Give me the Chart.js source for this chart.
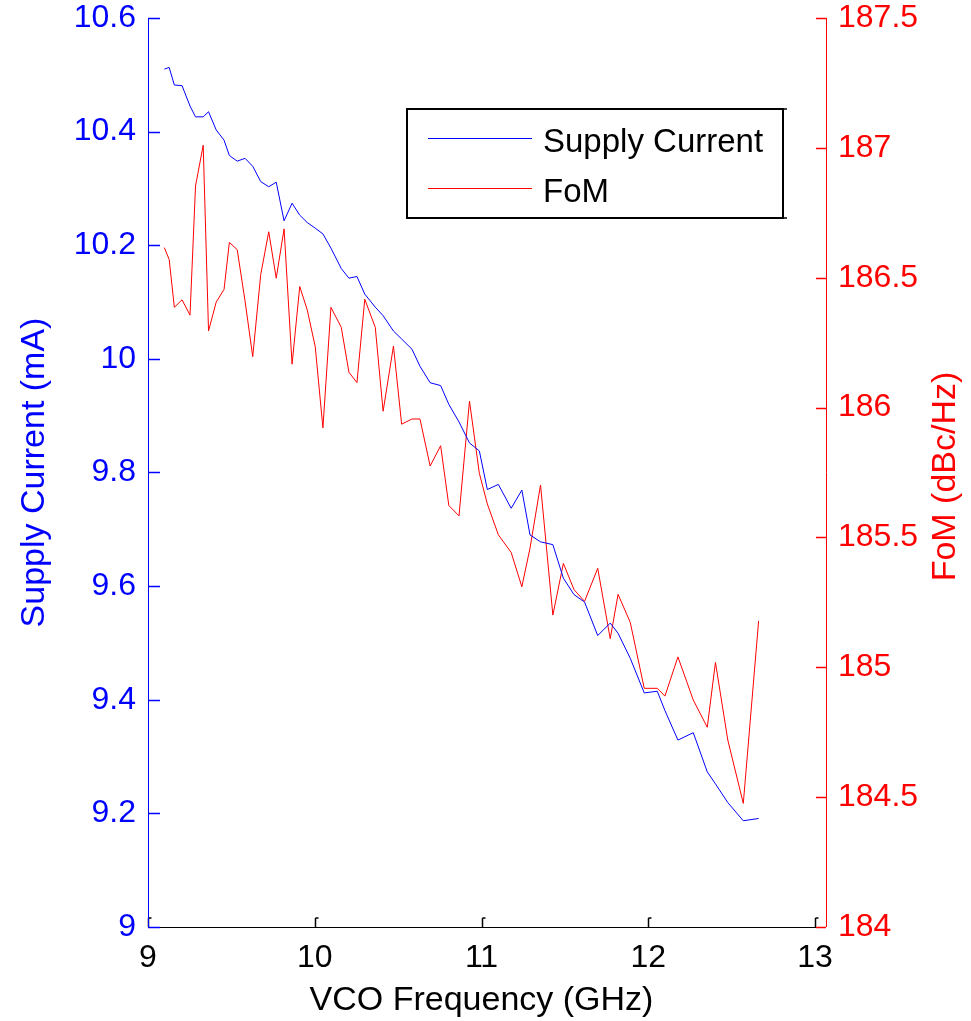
<!DOCTYPE html>
<html>
<head>
<meta charset="utf-8">
<title>VCO Supply Current and FoM</title>
<script src="https://cdn.jsdelivr.net/npm/chart.js@4.4.1/dist/chart.umd.min.js"></script>
<style>
  html, body { margin: 0; padding: 0; background: #fff; }
  #wrap { width: 971px; height: 1021px; }
</style>
</head>
<body>
<div id="wrap"><canvas id="vcoChart" width="971" height="1021"></canvas></div>
<script>
// measured sweep: VCO frequency (GHz), supply current (mA), FoM (dBc/Hz)
const freqGHz = [
  9.098, 9.127, 9.158, 9.204, 9.252, 9.285, 9.331, 9.363, 9.409, 9.456,
  9.488, 9.535, 9.582, 9.628, 9.676, 9.724, 9.769, 9.816, 9.864, 9.910,
  9.955, 10.003, 10.049, 10.097, 10.159, 10.205, 10.253, 10.300, 10.363, 10.410,
  10.472, 10.521, 10.583, 10.631, 10.692, 10.755, 10.804, 10.865, 10.928, 10.987,
  11.035, 11.101, 11.178, 11.242, 11.291, 11.354, 11.428, 11.491, 11.555, 11.618,
  11.697, 11.772, 11.819, 11.892, 11.976, 12.054, 12.100, 12.178, 12.270, 12.354,
  12.403, 12.477, 12.570, 12.662
];

const supplyCurrent = [
  10.510, 10.513, 10.482, 10.481, 10.445, 10.426, 10.426, 10.435, 10.403, 10.385,
  10.358, 10.348, 10.353, 10.339, 10.312, 10.303, 10.311, 10.243, 10.274, 10.253,
  10.240, 10.230, 10.220, 10.195, 10.159, 10.142, 10.145, 10.114, 10.091, 10.076,
  10.049, 10.035, 10.017, 9.987, 9.958, 9.953, 9.920, 9.889, 9.852, 9.838,
  9.770, 9.779, 9.737, 9.769, 9.690, 9.678, 9.673, 9.614, 9.585, 9.572,
  9.513, 9.535, 9.517, 9.473, 9.412, 9.415, 9.381, 9.329, 9.342, 9.273,
  9.252, 9.219, 9.187, 9.191
];

const fom = [
  186.616, 186.570, 186.386, 186.415, 186.356, 186.853, 187.010, 186.295, 186.406, 186.455,
  186.636, 186.608, 186.410, 186.196, 186.512, 186.677, 186.498, 186.688, 186.167, 186.466,
  186.376, 186.234, 185.922, 186.386, 186.309, 186.136, 186.096, 186.417, 186.309, 185.986,
  186.237, 185.936, 185.956, 185.956, 185.775, 185.853, 185.623, 185.583, 186.025, 185.747,
  185.629, 185.510, 185.442, 185.310, 185.459, 185.702, 185.201, 185.400, 185.299, 185.254,
  185.381, 185.110, 185.281, 185.173, 184.919, 184.919, 184.889, 185.040, 184.874, 184.769,
  185.019, 184.720, 184.476, 185.179
];

const seriesLabels = ["Supply Current", "FoM"];
const leftTitle = "Supply Current (mA)";
const rightTitle = "FoM (dBc/Hz)";
const bottomTitle = "VCO Frequency (GHz)";

const BLUE = "#0000ff";
const RED = "#ff0000";
const FONT = "'Liberation Sans', Arial, sans-serif";
const RIGHT_GAP = 11; // FoM axis sits a little right of the x range end

function toPoints(ys) {
  return freqGHz.map((f, i) => ({ x: f, y: ys[i] }));
}

function line(ctx, x1, y1, x2, y2) {
  ctx.beginPath();
  ctx.moveTo(x1, y1);
  ctx.lineTo(x2, y2);
  ctx.stroke();
}

// keep tick label overhang from shrinking the plot area
function fixWidth(w) {
  return s => { s.width = w; s.paddingTop = 0; s.paddingBottom = 0; };
}

// axis lines with inward ticks, the right title and the boxed legend
const framePlugin = {
  id: "frame",
  afterDraw(chart) {
    const { ctx, chartArea: a, scales } = chart;
    const rx = a.right + RIGHT_GAP;
    ctx.save();
    ctx.lineWidth = 1;

    // bottom axis
    ctx.strokeStyle = "#000";
    line(ctx, a.left, a.bottom + 0.5, rx, a.bottom + 0.5);
    ctx.lineWidth = 1.5;
    scales.x.ticks.forEach(t => {
      const px = Math.round(scales.x.getPixelForValue(t.value)) + 0.5;
      line(ctx, px, a.bottom, px, a.bottom - 9);
      line(ctx, px, a.bottom - 9, px + 3, a.bottom - 9);
    });

    // left axis
    ctx.lineWidth = 1;
    ctx.strokeStyle = BLUE;
    line(ctx, a.left + 0.5, a.top, a.left + 0.5, a.bottom);
    ctx.lineWidth = 1.5;
    scales.y.ticks.forEach(t => {
      const py = Math.round(scales.y.getPixelForValue(t.value)) + 0.5;
      line(ctx, a.left, py, a.left + 12, py);
    });

    // right axis
    ctx.lineWidth = 1;
    ctx.strokeStyle = RED;
    line(ctx, rx + 0.5, a.top, rx + 0.5, a.bottom);
    ctx.lineWidth = 1.5;
    scales.y1.ticks.forEach(t => {
      const py = Math.round(scales.y1.getPixelForValue(t.value)) + 0.5;
      line(ctx, rx, py, rx - 10, py);
    });

    // right axis title, reading bottom to top
    ctx.save();
    ctx.fillStyle = RED;
    ctx.font = "34px " + FONT;
    ctx.textAlign = "center";
    ctx.textBaseline = "middle";
    ctx.translate(946, (a.top + a.bottom) / 2 + 4);
    ctx.rotate(-Math.PI / 2);
    ctx.fillText(rightTitle, 0, 0);
    ctx.restore();

    // legend
    const box = { x: 407, y: 109, w: 376, h: 109 };
    ctx.lineWidth = 2;
    ctx.strokeStyle = "#000";
    ctx.strokeRect(box.x, box.y, box.w, box.h);
    ctx.lineWidth = 1.5;
    line(ctx, box.x + box.w, box.y, box.x + box.w + 4, box.y);
    line(ctx, box.x + box.w, box.y + box.h, box.x + box.w + 4, box.y + box.h);

    ctx.font = "33px " + FONT;
    ctx.textAlign = "left";
    ctx.textBaseline = "middle";
    ctx.fillStyle = "#000";
    chart.data.datasets.forEach((ds, i) => {
      const cy = box.y + 29 + i * 50;
      ctx.strokeStyle = ds.borderColor;
      ctx.lineWidth = 1;
      line(ctx, box.x + 21, cy + 0.5, box.x + 125, cy + 0.5);
      ctx.fillText(ds.label, box.x + 136, cy + 5);
    });

    ctx.restore();
  }
};

function renderVcoChart() {
  const ctx = document.getElementById("vcoChart");
  if (!ctx) return;

  new Chart(ctx, {
    type: "line",
    data: {
      datasets: [
        {
          label: seriesLabels[0],
          data: toPoints(supplyCurrent),
          yAxisID: "y",
          borderColor: BLUE,
          borderWidth: 1,
          pointRadius: 0,
          tension: 0,
          fill: false
        },
        {
          label: seriesLabels[1],
          data: toPoints(fom),
          yAxisID: "y1",
          borderColor: RED,
          borderWidth: 1,
          pointRadius: 0,
          tension: 0,
          fill: false
        }
      ]
    },
    options: {
      responsive: false,
      animation: false,
      events: [],
      layout: { padding: { top: 18, left: 0, right: 0, bottom: 0 } },
      plugins: {
        legend: { display: false },
        tooltip: { enabled: false }
      },
      scales: {
        x: {
          type: "linear",
          min: 9,
          max: 13,
          grid: { display: false, drawTicks: false },
          border: { display: false },
          ticks: { stepSize: 1, color: "#000", padding: 12, font: { family: FONT, size: 32 } },
          title: {
            display: true,
            text: bottomTitle,
            color: "#000",
            font: { family: FONT, size: 34 },
            padding: { top: 0, bottom: 0 }
          },
          afterFit: s => { s.height = 94; s.paddingLeft = 0; s.paddingRight = 0; }
        },
        y: {
          position: "left",
          min: 9,
          max: 10.6,
          grid: { display: false, drawTicks: false },
          border: { display: false },
          ticks: {
            stepSize: 0.2,
            color: BLUE,
            padding: 12,
            font: { family: FONT, size: 32 },
            callback: v => Number(v.toFixed(1)).toString()
          },
          title: {
            display: true,
            text: leftTitle,
            color: BLUE,
            font: { family: FONT, size: 34 },
            padding: { top: 14, bottom: 0 }
          },
          afterFit: fixWidth(148)
        },
        y1: {
          position: "right",
          min: 184,
          max: 187.5,
          grid: { display: false, drawTicks: false },
          border: { display: false },
          ticks: {
            stepSize: 0.5,
            color: RED,
            padding: 23,
            font: { family: FONT, size: 32 },
            callback: v => Number(v.toFixed(1)).toString()
          },
          afterFit: fixWidth(156)
        }
      }
    },
    plugins: [framePlugin]
  });
}

renderVcoChart();
</script>
</body>
</html>
